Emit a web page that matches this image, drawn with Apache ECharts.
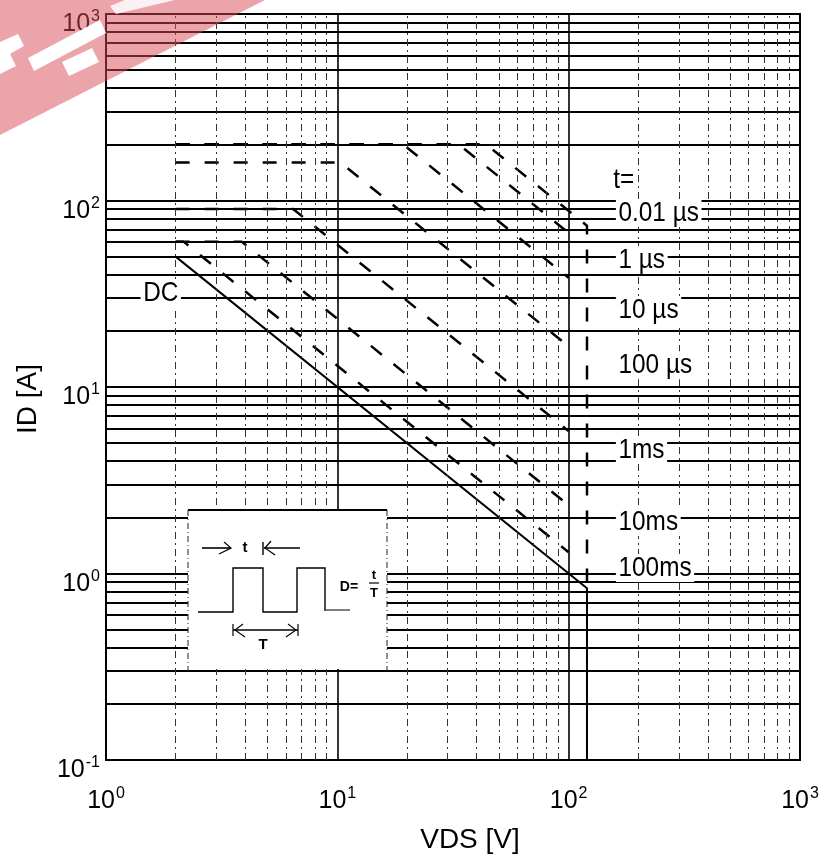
<!DOCTYPE html>
<html><head><meta charset="utf-8">
<script src="https://cdn.jsdelivr.net/npm/echarts@6/dist/echarts.min.js"></script>
<style>html,body{margin:0;padding:0;background:#fff}#c{width:833px;height:858px}</style>
</head><body><div id="c"></div>
<script>
// ---- axes / ticks ----
const xTicks = [1, 10, 100, 1000];
const yTicks = [0.1, 1, 10, 100, 1000];
const gridDecadesY = [0.1, 1, 10, 100];
const gridDecadesX = [1, 10, 100];
const gridFactors = [1, 2, 3, 4, 5, 6, 7, 8, 9];

// ---- curves: [VDS (V), ID (A)] ----
const dcCurve     = [[2, 50], [120, 0.833], [120, 0.1]];
const pulse001us  = [[2, 200], [44, 200], [120, 73.3], [120, 0.833]];
const pulse1us    = [[2, 200], [33.5, 200], [100, 67]];
const pulse10us   = [[2, 200], [19.25, 200], [100, 38.5]];
const pulse100us  = [[2, 160], [10.3, 160], [100, 16.5]];
const pulse1ms    = [[2, 90], [6.44, 90], [100, 5.8]];
const pulse10ms   = [[2, 60], [3.87, 60], [100, 2.32]];
const pulse100ms  = [[2, 60], [2.17, 60], [100, 1.3]];

// ---- annotation texts ----
const curveLabels = ['t=', '0.01 µs', '1 µs', '10 µs', '100 µs', '1ms', '10ms', '100ms'];
const dcLabel = 'DC';

// annotation anchors (data coordinates, left edge / vertical middle of text)
const curveLabelAnchors = [[152, 129], [160, 85.8], [160, 48], [160, 25.9], [160, 13.1], [160, 4.59], [160, 1.89], [160, 1.07]];
const dcLabelAnchor = [1.41, 31.9];

const chart = echarts.init(document.getElementById('c'), null, {renderer: 'canvas'});

const hGridValues = [];
gridDecadesY.forEach(d => gridFactors.forEach(k => {
  const v = parseFloat((d * k).toPrecision(3));
  if (v > 0.1 && v < 1000) hGridValues.push(v);
}));
const vMinor = [], vMajor = [];
gridDecadesX.forEach(d => gridFactors.forEach(k => {
  const v = parseFloat((d * k).toPrecision(3));
  if (v <= 1) return;
  if (k === 1) vMajor.push(v); else vMinor.push(v);
}));

const FONT = 'Liberation Sans, Arial, sans-serif';

function powLabel(v) {
  const e = Math.round(Math.log10(v));
  return '{b|10}{s|' + e + '}';
}
const richLab = {
  b: {fontSize: 25, fontFamily: FONT, color: '#000', verticalAlign: 'bottom'},
  s: {fontSize: 16, fontFamily: FONT, color: '#000', verticalAlign: 'bottom', padding: [0, 0, 12, 1]}
};

function gridSeries(name, data, style) {
  return {
    type: 'line', name: name, data: [], silent: true, z: 1,
    markLine: {
      silent: true, animation: false, symbol: ['none', 'none'],
      label: {show: false}, emphasis: {disabled: true},
      lineStyle: style, data: data
    }
  };
}
function curve(name, data, dashed) {
  return {
    type: 'line', name: name, data: data, symbol: 'none', silent: true, z: 3,
    animation: false,
    lineStyle: dashed ? {color: '#000', width: 2.5, type: [14, 15]} : {color: '#000', width: 2}
  };
}

const option = {
  animation: false,
  backgroundColor: '#fff',
  grid: {left: 106, top: 14, right: 33, bottom: 98, show: true, borderColor: '#000', borderWidth: 2,
         backgroundColor: 'transparent', containLabel: false, outerBoundsMode: 'none'},
  xAxis: {
    type: 'log', logBase: 10, min: 1, max: 1000,
    name: 'VDS [V]', nameLocation: 'middle', nameGap: 66,
    nameTextStyle: {fontSize: 28, fontFamily: FONT, color: '#000', padding: [0, 0, 0, 34]},
    axisLine: {show: false}, axisTick: {show: false}, splitLine: {show: false},
    axisLabel: {formatter: powLabel, rich: richLab, margin: 26}
  },
  yAxis: {
    type: 'log', logBase: 10, min: 0.1, max: 1000,
    name: 'ID [A]', nameLocation: 'middle', nameGap: 64, nameRotate: 90,
    nameTextStyle: {fontSize: 28, fontFamily: FONT, color: '#000', padding: [0, 24, 0, 0]},
    axisLine: {show: false}, axisTick: {show: false}, splitLine: {show: false},
    axisLabel: {formatter: powLabel, rich: richLab, margin: 6, padding: [18, 0, 0, 0]}
  },
  series: [
    gridSeries('hgrid', hGridValues.map(v => ({yAxis: v})), {color: '#000', width: 2, type: 'solid'}),
    gridSeries('vminor', vMinor.map(v => ({xAxis: v})), {color: '#333', width: 1, type: [7, 4, 2, 4]}),
    gridSeries('vmajor', vMajor.map(v => ({xAxis: v})), {color: '#000', width: 1.6, type: 'solid'}),
    curve('DC', dcCurve, false),
    curve('0.01us', pulse001us, true),
    curve('1us', pulse1us, true),
    curve('10us', pulse10us, true),
    curve('100us', pulse100us, true),
    curve('1ms', pulse1ms, true),
    curve('10ms', pulse10ms, true),
    curve('100ms', pulse100ms, true)
  ]
};
chart.setOption(option);

// ---- text annotations placed through the chart's own scales ----
function annot(text, dataPt) {
  const p = chart.convertToPixel({gridIndex: 0}, dataPt);
  return {
    type: 'text', x: p[0], y: p[1], scaleX: 0.87, z: 60, silent: true,
    style: {text: text, x: 0, y: 0, fontSize: 28, fontFamily: FONT, fill: '#000',
            align: 'left', verticalAlign: 'middle', backgroundColor: '#fff', padding: [0, 3]}
  };
}
const L = (o) => Object.assign({silent: true, z: 52}, o);
const graphics = [
  // inset box
  {type: 'rect', shape: {x: 188, y: 511, width: 199, height: 158}, style: {fill: '#fff'}, z: 50, silent: true},
  L({type: 'line', shape: {x1: 188, y1: 510, x2: 387, y2: 510}, style: {stroke: '#000', lineWidth: 2}}),
  L({type: 'line', shape: {x1: 188, y1: 510, x2: 188, y2: 671}, style: {stroke: '#222', lineWidth: 1, lineDash: [6, 3, 1, 3]}}),
  L({type: 'line', shape: {x1: 387, y1: 510, x2: 387, y2: 671}, style: {stroke: '#222', lineWidth: 1, lineDash: [6, 3, 1, 3]}}),
  // pulse waveform
  L({type: 'polyline', shape: {points: [[198, 612], [233, 612], [233, 568], [263, 568], [263, 612], [297, 612], [297, 568], [325, 568], [325, 611]]},
     style: {stroke: '#000', lineWidth: 1.4, fill: null}}),
  L({type: 'line', shape: {x1: 326, y1: 610, x2: 350, y2: 610}, style: {stroke: '#000', lineWidth: 1}}),
  // t arrows
  L({type: 'line', shape: {x1: 202, y1: 548, x2: 231, y2: 548}, style: {stroke: '#000', lineWidth: 1.6}}),
  L({type: 'polyline', shape: {points: [[219, 554], [231, 548], [224, 542]]}, style: {stroke: '#000', lineWidth: 1.2, fill: null}}),
  L({type: 'line', shape: {x1: 264, y1: 548, x2: 300, y2: 548}, style: {stroke: '#000', lineWidth: 1.6}}),
  L({type: 'line', shape: {x1: 263, y1: 542, x2: 263, y2: 555}, style: {stroke: '#000', lineWidth: 1.4}}),
  L({type: 'polyline', shape: {points: [[271, 541], [265, 548], [275, 555]]}, style: {stroke: '#000', lineWidth: 1.2, fill: null}}),
  L({type: 'text', style: {text: 't', x: 245, y: 548, fontSize: 15, fontWeight: 'bold', fontFamily: FONT, fill: '#000', align: 'center', verticalAlign: 'middle'}}),
  // T dimension
  L({type: 'line', shape: {x1: 233, y1: 630, x2: 298, y2: 630}, style: {stroke: '#000', lineWidth: 1.6}}),
  L({type: 'line', shape: {x1: 233, y1: 624, x2: 233, y2: 636}, style: {stroke: '#000', lineWidth: 1.2}}),
  L({type: 'line', shape: {x1: 298, y1: 624, x2: 298, y2: 636}, style: {stroke: '#000', lineWidth: 1.2}}),
  L({type: 'polyline', shape: {points: [[243, 624], [235, 630], [245, 637]]}, style: {stroke: '#000', lineWidth: 1.1, fill: null}}),
  L({type: 'polyline', shape: {points: [[288, 624], [296, 630], [286, 637]]}, style: {stroke: '#000', lineWidth: 1.1, fill: null}}),
  L({type: 'text', style: {text: 'T', x: 263, y: 645, fontSize: 15, fontWeight: 'bold', fontFamily: FONT, fill: '#000', align: 'center', verticalAlign: 'middle'}}),
  // D = t / T
  L({type: 'text', style: {text: 'D=', x: 349, y: 587, fontSize: 14, fontWeight: 'bold', fontFamily: FONT, fill: '#000', align: 'center', verticalAlign: 'middle'}}),
  L({type: 'text', style: {text: 't', x: 374, y: 575, fontSize: 13, fontWeight: 'bold', fontFamily: FONT, fill: '#000', align: 'center', verticalAlign: 'middle'}}),
  L({type: 'line', shape: {x1: 369, y1: 583, x2: 379, y2: 583}, style: {stroke: '#000', lineWidth: 1.2}}),
  L({type: 'text', style: {text: 'T', x: 374, y: 593, fontSize: 13, fontWeight: 'bold', fontFamily: FONT, fill: '#000', align: 'center', verticalAlign: 'middle'}}),
  // watermark (top-left corner)
  {type: 'polygon', shape: {points: [[0, 0], [265, 0], [0, 135]]}, style: {fill: 'rgba(215,73,85,0.5)'}, z: 100, silent: true},
  {type: 'polygon', shape: {points: [[28, 58], [100, 20], [106, 33], [34, 71]]}, style: {fill: '#fff'}, z: 101, silent: true},
  {type: 'polygon', shape: {points: [[0, 42], [18, 34], [24, 46], [10, 54], [16, 66], [0, 74]]}, style: {fill: '#fff'}, z: 101, silent: true},
  {type: 'polygon', shape: {points: [[62, 62], [92, 48], [99, 62], [69, 76]]}, style: {fill: '#fff'}, z: 101, silent: true},
  {type: 'polygon', shape: {points: [[110, 6], [125, 0], [175, 0], [116, 14]]}, style: {fill: 'rgba(255,255,255,0.85)'}, z: 101, silent: true}
];
curveLabels.forEach((t, i) => graphics.push(annot(t, curveLabelAnchors[i])));
graphics.push(annot(dcLabel, dcLabelAnchor));
chart.setOption({graphic: graphics});
</script>
</body></html>
